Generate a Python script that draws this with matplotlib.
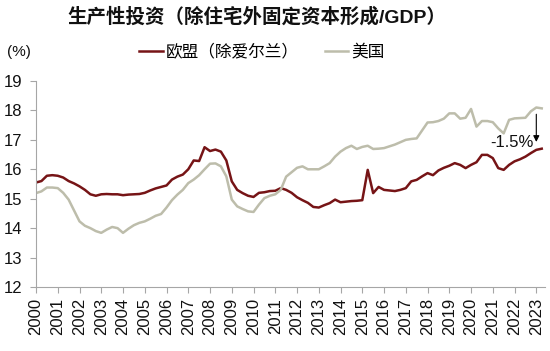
import numpy as np
import matplotlib
matplotlib.use("Agg")
import matplotlib.pyplot as plt

plt.rcParams['font.family'] = ['Liberation Sans', 'Noto Sans CJK SC', 'DejaVu Sans']

title = "生产性投资（除住宅外固定资本形成/GDP）"
eu_label = "欧盟（除爱尔兰）"
us_label = "美国"
unit_label = "(%)"
gap_label = "-1.5%"

years = list(range(2000, 2024))
start_year = 2000

# Quarterly values, 2000Q1 .. 2023Q2
eu = [
    15.55, 15.60, 15.78, 15.80,   # 2000
    15.78, 15.72, 15.60, 15.52,   # 2001
    15.42, 15.30, 15.15, 15.10,   # 2002
    15.15, 15.16, 15.15, 15.15,   # 2003
    15.12, 15.14, 15.15, 15.16,   # 2004
    15.20, 15.28, 15.35, 15.40,   # 2005
    15.45, 15.65, 15.75, 15.82,   # 2006
    16.00, 16.30, 16.28, 16.75,   # 2007
    16.62, 16.67, 16.60, 16.30,   # 2008
    15.59, 15.30, 15.19, 15.10,   # 2009
    15.06, 15.20, 15.22, 15.26,   # 2010
    15.27, 15.36, 15.30, 15.20,   # 2011
    15.05, 14.95, 14.86, 14.72,   # 2012
    14.70, 14.78, 14.85, 14.97,   # 2013
    14.88, 14.90, 14.92, 14.93,   # 2014
    14.95, 15.98, 15.19, 15.40,   # 2015
    15.30, 15.28, 15.26, 15.30,   # 2016
    15.36, 15.59, 15.64, 15.76,   # 2017
    15.87, 15.80, 15.96, 16.05,   # 2018
    16.12, 16.21, 16.15, 16.04,   # 2019
    16.15, 16.24, 16.49, 16.49,   # 2020
    16.38, 16.04, 15.98, 16.15,   # 2021
    16.27, 16.34, 16.43, 16.55,   # 2022
    16.66, 16.70,                 # 2023
]

us = [
    15.19, 15.25, 15.38, 15.38,   # 2000
    15.36, 15.20, 14.97, 14.60,   # 2001
    14.23, 14.08, 14.00, 13.90,   # 2002
    13.84, 13.95, 14.04, 14.00,   # 2003
    13.84, 13.98, 14.10, 14.18,   # 2004
    14.23, 14.32, 14.42, 14.48,   # 2005
    14.70, 14.95, 15.14, 15.30,   # 2006
    15.53, 15.65, 15.80, 16.00,   # 2007
    16.19, 16.20, 16.10, 15.76,   # 2008
    14.97, 14.74, 14.65, 14.57,   # 2009
    14.55, 14.80, 15.02, 15.10,   # 2010
    15.15, 15.30, 15.75, 15.90,   # 2011
    16.05, 16.10, 16.00, 16.00,   # 2012
    16.00, 16.10, 16.21, 16.43,   # 2013
    16.60, 16.72, 16.80, 16.69,   # 2014
    16.76, 16.80, 16.69, 16.70,   # 2015
    16.72, 16.78, 16.84, 16.92,   # 2016
    17.00, 17.03, 17.05, 17.32,   # 2017
    17.59, 17.60, 17.64, 17.72,   # 2018
    17.90, 17.90, 17.72, 17.75,   # 2019
    18.05, 17.45, 17.64, 17.64,   # 2020
    17.60, 17.39, 17.22, 17.68,   # 2021
    17.73, 17.74, 17.75, 17.97,   # 2022
    18.10, 18.07,                 # 2023
]

x = start_year + np.arange(len(eu)) / 4.0

EU_COLOR = "#761416"
US_COLOR = "#BDBDAB"
AX_COLOR = "#A6A6A6"

fig = plt.figure(figsize=(5.5, 3.51), dpi=100)
ax = fig.add_axes([36/550, 1-287/351, (545-36)/550, (287-81)/351])

ax.plot(x, eu, color=EU_COLOR, lw=1.8, label=eu_label, solid_joinstyle='round')
ax.plot(x, us, color=US_COLOR, lw=1.8, label=us_label, solid_joinstyle='round')

ax.set_xlim(2000, 2023.4)
ax.set_ylim(12, 19)
ax.set_yticks(range(12, 20))
ax.set_xticks(years)
ax.set_xticklabels([str(y) for y in years], rotation=90)

for s in ['top', 'right']:
    ax.spines[s].set_visible(False)
for s in ['left', 'bottom']:
    ax.spines[s].set_color(AX_COLOR)
    ax.spines[s].set_linewidth(0.8)
ax.tick_params(axis='both', colors=AX_COLOR, length=4, width=0.8, labelsize=12,
               labelcolor='#111111')
ax.tick_params(axis='y', pad=6)
ax.tick_params(axis='x', pad=4)

# gap annotation
ax.annotate("", xy=(2023.0, 16.93), xytext=(2023.0, 17.87),
            arrowprops=dict(arrowstyle="-|>", color="black", lw=0.8,
                            mutation_scale=9, shrinkA=0, shrinkB=0))
ax.text(2022.9, 16.9, gap_label, ha='right', va='center', fontsize=12, color='#111111')

fig.text(257/550, 1-17/351, title, ha='center', va='center', fontsize=14,
         fontweight='bold', color='#111111')
fig.text(7/550, 1-52/351, unit_label, ha='left', va='center', fontsize=11, color='#111111')

leg = fig.legend(loc='center', bbox_to_anchor=(262/550, 1-52/351), ncol=2, frameon=False,
                 fontsize=12, handlelength=1.4, handletextpad=0.2, columnspacing=1.55,
                 borderaxespad=0, borderpad=0)

fig.savefig("out.png", dpi=100)
